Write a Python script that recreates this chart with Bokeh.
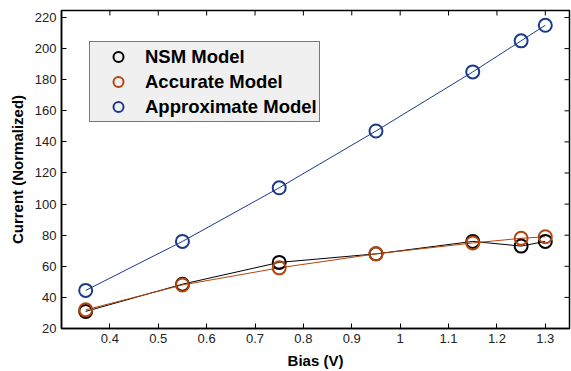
import math
from bokeh.plotting import figure
from bokeh.models import Legend, LegendItem, Range1d, FixedTicker
from bokeh.embed import file_html
from bokeh.resources import INLINE

bias = [0.35, 0.55, 0.75, 0.95, 1.15, 1.25, 1.3]
nsm = [31, 48.5, 62.5, 68, 76, 73, 76]
accurate = [32, 48, 59, 68, 75, 78, 79]
approx = [44.5, 76, 110.5, 147, 185, 205, 215]
x_ticks = [0.4, 0.5, 0.6, 0.7, 0.8, 0.9, 1.0, 1.1, 1.2, 1.3]
y_ticks = [20, 40, 60, 80, 100, 120, 140, 160, 180, 200, 220]
x_lo, x_hi = 0.3, 1.35
y_lo, y_hi = 20, 224.5

BLACK = "#000000"
ORANGE = "#B5450F"
BLUE = "#1A3A8A"
FONT = "Liberation Sans"

p = figure(width=571, height=371, output_backend="svg", toolbar_location=None,
           x_range=Range1d(x_lo, x_hi), y_range=Range1d(y_lo, y_hi),
           min_border_left=61, min_border_right=2, min_border_top=10, min_border_bottom=43)
p.xgrid.visible = False
p.ygrid.visible = False
p.outline_line_color = "black"
p.outline_line_width = 1.5
p.background_fill_color = "white"

for ax in (p.xaxis[0], p.yaxis[0]):
    ax.major_tick_in = 5
    ax.major_tick_out = 0
    ax.minor_tick_line_color = None
    ax.axis_line_color = "black"
    ax.axis_line_width = 1.5
    ax.major_label_text_font = FONT
    ax.major_label_text_font_size = "13px"
    ax.major_label_text_color = "#222222"
    ax.axis_label_text_font = FONT
    ax.axis_label_text_font_style = "bold"
    ax.axis_label_text_font_size = "15px"
    ax.axis_label_text_color = "black"

p.xaxis.ticker = FixedTicker(ticks=x_ticks)
p.yaxis.ticker = FixedTicker(ticks=y_ticks)
p.xaxis.major_label_overrides = {1.0: "1"}
p.xaxis.axis_label = "Bias (V)"
p.yaxis.axis_label = "Current (Normalized)"
p.xaxis.axis_label_standoff = 6
p.yaxis.axis_label_standoff = 6

# inward ticks on top and right edges (clipped to the frame)
p.scatter([x_hi] * len(y_ticks), y_ticks, marker="dash", size=10, line_color="black", line_width=1)
p.scatter(x_ticks, [y_hi] * len(x_ticks), marker="dash", angle=math.pi / 2, size=10,
          line_color="black", line_width=1)

p.line(bias, nsm, line_color=BLACK, line_width=1)
p.line(bias, accurate, line_color=ORANGE, line_width=1)
p.line(bias, approx, line_color=BLUE, line_width=1)
r1 = p.scatter(bias, nsm, marker="circle", size=13, fill_color=None, line_color=BLACK, line_width=2)
r2 = p.scatter(bias, accurate, marker="circle", size=13, fill_color=None, line_color=ORANGE, line_width=2)
r3 = p.scatter(bias, approx, marker="circle", size=13, fill_color=None, line_color=BLUE, line_width=2)

legend = Legend(items=[LegendItem(label="NSM Model", renderers=[r1]),
                       LegendItem(label="Accurate Model", renderers=[r2]),
                       LegendItem(label="Approximate Model", renderers=[r3])],
                location=(28, 206))
legend.background_fill_color = "#F0F0F0"
legend.background_fill_alpha = 1
legend.border_line_color = "black"
legend.border_line_width = 1.5
legend.label_text_font = FONT
legend.label_text_font_style = "bold"
legend.label_text_font_size = "18.5px"
legend.label_text_color = "black"
legend.padding = 2
legend.margin = 0
legend.spacing = 0
legend.label_height = 18
legend.glyph_height = 25
legend.glyph_width = 52
legend.label_standoff = 1
p.add_layout(legend, "center")

open("out.html", "w").write(file_html(p, INLINE))
